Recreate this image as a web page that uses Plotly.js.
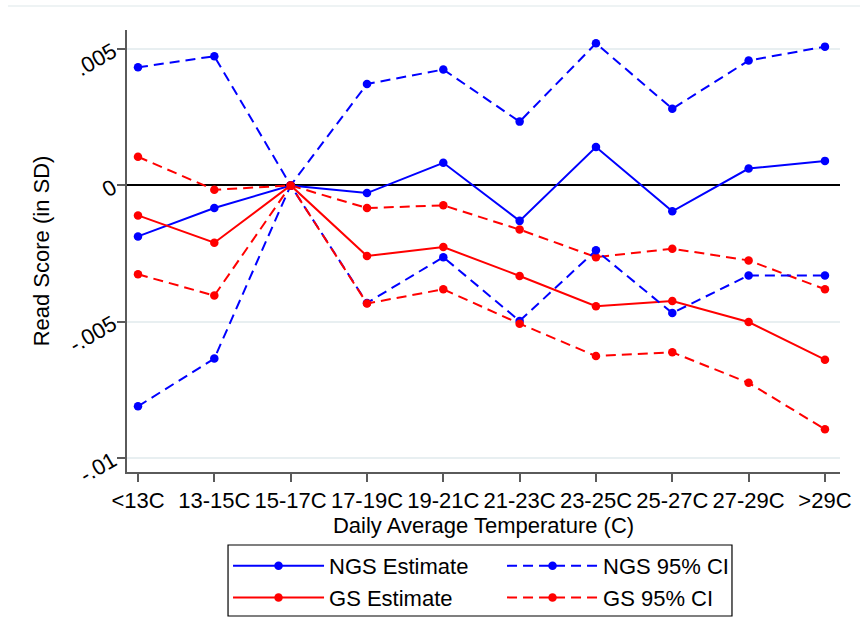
<!DOCTYPE html>
<html>
<head>
<meta charset="utf-8">
<script src="https://cdn.plot.ly/plotly-3.0.1.min.js"></script>
<style>html,body{margin:0;padding:0;background:#fff;}#chart{width:860px;height:643px;}</style>
</head>
<body>
<div id="chart"></div>
<script>
var categories = ['<13C','13-15C','15-17C','17-19C','19-21C','21-23C','23-25C','25-27C','27-29C','>29C'];
var ngsEst   = [-0.00187, -0.00083, 0, -0.00028, 0.00083, -0.00130, 0.00141, -0.00095, 0.00062, 0.00090];
var ngsUpper = [0.00433, 0.00474, 0, 0.00372, 0.00425, 0.00234, 0.00521, 0.00281, 0.00458, 0.00509];
var ngsLower = [-0.00810, -0.00635, 0, -0.00431, -0.00263, -0.00497, -0.00238, -0.00468, -0.00330, -0.00330];
var gsEst    = [-0.00110, -0.00210, 0, -0.00259, -0.00226, -0.00332, -0.00443, -0.00424, -0.00501, -0.00639];
var gsUpper  = [0.00105, -0.00016, 0, -0.00083, -0.00073, -0.00162, -0.00263, -0.00232, -0.00275, -0.00381];
var gsLower  = [-0.00326, -0.00404, 0, -0.00433, -0.00381, -0.00507, -0.00626, -0.00612, -0.00724, -0.00894];
var yTickVals = [0.005, 0, -0.005, -0.01];
var yTickText = ['.005', '0', '-.005', '-.01'];

var BLUE = '#0000ff', RED = '#ff0000';
var DASH = '10px,6px';
function tr(y, name, color, dash, show, group) {
  return {
    x: categories, y: y, name: name, type: 'scatter', mode: 'lines+markers',
    line: {color: color, width: 2, dash: dash},
    marker: {color: color, size: 8.5, symbol: 'circle'},
    showlegend: show, legendgroup: group
  };
}
var data = [
  tr(ngsEst, 'NGS Estimate', BLUE, 'solid', true, 'a'),
  tr(ngsUpper, 'NGS 95% CI', BLUE, DASH, true, 'b'),
  tr(gsEst, 'GS Estimate', RED, 'solid', true, 'c'),
  tr(gsUpper, 'GS 95% CI', RED, DASH, true, 'd'),
  tr(ngsLower, 'NGS 95% CI', BLUE, DASH, false, 'b'),
  tr(gsLower, 'GS 95% CI', RED, DASH, false, 'd')
];
var FONT = 'Liberation Sans, Arial, sans-serif';
var layout = {
  width: 860, height: 643,
  margin: {l: 127, r: 20, t: 30, b: 171},
  paper_bgcolor: '#fff', plot_bgcolor: '#fff',
  font: {family: FONT, size: 22, color: '#000'},
  xaxis: {
    type: 'category', range: [-0.144, 9.197],
    showgrid: false, zeroline: false,
    showline: true, linecolor: '#5a5a5a', linewidth: 1.5,
    ticks: 'outside', ticklen: 8, tickcolor: '#5a5a5a', tickwidth: 1.5,
    tickfont: {family: FONT, size: 22, color: '#000'},
    title: {text: 'Daily Average Temperature (C)', font: {family: FONT, size: 22, color: '#000'}, standoff: 0}
  },
  yaxis: {
    range: [-0.01051, 0.0057],
    tickvals: yTickVals, ticktext: yTickText, tickangle: -30,
    showgrid: true, gridcolor: '#e8eff1', gridwidth: 1.5,
    zeroline: true, zerolinecolor: '#000', zerolinewidth: 2,
    showline: true, linecolor: '#5a5a5a', linewidth: 1.5,
    ticks: 'outside', ticklen: 8, tickcolor: '#5a5a5a', tickwidth: 1.5,
    tickfont: {family: FONT, size: 22, color: '#000'},
    title: {text: 'Read Score (in SD)', font: {family: FONT, size: 22, color: '#000'}, standoff: 9}
  },
  legend: {
    orientation: 'h', x: 0.1417, xanchor: 'left', y: -0.1652, yanchor: 'top',
    borderwidth: 0, bgcolor: 'rgba(0,0,0,0)',
    font: {family: FONT, size: 22, color: '#000'},
    entrywidth: 168, entrywidthmode: 'pixels', itemwidth: 91,
    traceorder: 'normal'
  },
  shapes: [
    {type: 'line', xref: 'paper', yref: 'paper', x0: -0.167, x1: 1.03, y0: 1.0543, y1: 1.0543,
     line: {color: '#e8eff1', width: 1.5}},
    {type: 'rect', xref: 'paper', yref: 'paper', x0: 0.1417, x1: 0.8485, y0: -0.1652, y1: -0.3258,
     line: {color: '#000', width: 1.2}, fillcolor: 'rgba(0,0,0,0)'}
  ]
};
Plotly.newPlot('chart', data, layout, {displayModeBar: false, responsive: false});
</script>
</body>
</html>
